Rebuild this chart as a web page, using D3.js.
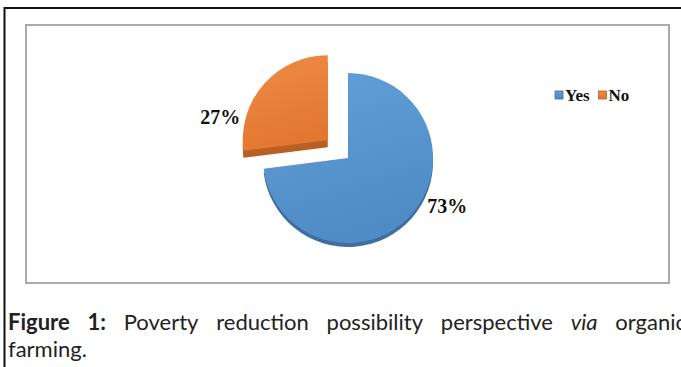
<!DOCTYPE html>
<html>
<head>
<meta charset="utf-8">
<script src="https://cdn.jsdelivr.net/npm/d3@7"></script>
<style>
  html, body { margin: 0; padding: 0; background: #fff; overflow: hidden; }
</style>
</head>
<body>
<svg id="chart" width="681" height="367"></svg>
<script>
// data
const categories = ["Yes", "No"]
const values = [73, 27]
const labels = ["73%", "27%"]

const svg = d3.select("#chart")
const W = 681, H = 367

//outer frame (page border) + inner chart box
svg.append("path").attr("d", `M4.5,${H} L4.5,8 L${W},8`).attr("fill", "none").attr("stroke", "#111").attr("stroke-width", 2)
svg.append("rect").attr("x", 26).attr("y", 25).attr("width", 643).attr("height", 258)
  .attr("fill", "#fff").attr("stroke", "#aaa").attr("stroke-width", 2)

//gradients for the faces
const defs = svg.append("defs")
const grads = [["g0", "#63a0d8", "#4f8bc4"], ["g1", "#ef8c48", "#e27730"]]
grads.forEach(g => {
  let lg = defs.append("linearGradient").attr("id", g[0]).attr("x1", 0).attr("y1", 0).attr("x2", 0.3).attr("y2", 1)
  lg.append("stop").attr("offset", "0%").attr("stop-color", g[1])
  lg.append("stop").attr("offset", "100%").attr("stop-color", g[2])
})

const color = d3.scaleOrdinal().domain(categories).range(["url(#g0)", "url(#g1)"])
const depthColor = d3.scaleOrdinal().domain(categories).range(["#3f6f9f", "#b85f24"])
const depth = d3.scaleOrdinal().domain(categories).range([4, 7])
const explode = d3.scaleOrdinal().domain(categories).range([0, 27])
//where along the slice the label sits (Excel best fit)
const labelFrac = d3.scaleOrdinal().domain(categories).range([0.44, 0.2])

const cx = 348, cy = 158, R = 85

const pie = d3.pie().sort(null).value(d => d.v)
const arcs = pie(categories.map((c, i) => ({c, v: values[i], label: labels[i]})))
const arc = d3.arc().innerRadius(0).outerRadius(R)

const g = svg.append("g").attr("transform", `translate(${cx},${cy})`)

const slice = g.selectAll("g.slice").data(arcs).enter().append("g").attr("class", "slice")
  .attr("transform", d => {
    let a = (d.startAngle + d.endAngle) / 2, e = explode(d.data.c)
    return `translate(${Math.sin(a) * e},${-Math.cos(a) * e})`
  })

//side (depth) first, then the top face
slice.append("path").attr("d", arc).attr("transform", d => `translate(0,${depth(d.data.c)})`)
  .attr("fill", d => depthColor(d.data.c))
slice.append("path").attr("d", arc).attr("fill", d => color(d.data.c))

slice.append("text")
  .attr("transform", d => {
    let a = d.startAngle + labelFrac(d.data.c) * (d.endAngle - d.startAngle), r = R + 25
    return `translate(${Math.sin(a) * r},${-Math.cos(a) * r})`
  })
  .attr("text-anchor", "middle").attr("dominant-baseline", "central")
  .attr("font-family", "Liberation Serif").attr("font-weight", "bold").attr("font-size", 20)
  .attr("fill", "#111")
  .text(d => d.data.label)

//legend
const legend = svg.append("g").attr("transform", "translate(555,91)")
let lx = 0
categories.forEach((c, i) => {
  let item = legend.append("g").attr("transform", `translate(${lx},0)`)
  item.append("rect").attr("x", 0).attr("y", 0).attr("width", 8).attr("height", 8)
    .attr("fill", color(c)).attr("stroke", depthColor(c)).attr("stroke-width", 0.8)
  let t = item.append("text").attr("x", 10).attr("y", 10)
    .attr("font-family", "Liberation Serif").attr("font-weight", "bold").attr("font-size", 17)
    .attr("fill", "#111").text(c)
  lx += 10 + t.node().getComputedTextLength() + 9
})

//caption, first line justified across the page
const capFont = "Lato"
const line1 = [
  {t: "Figure", w: "bold"}, {t: "1:", w: "bold"}, {t: "Poverty"}, {t: "reduction"},
  {t: "possibility"}, {t: "perspective"}, {t: "via", s: "italic"}, {t: "organic"}
]
const cap = svg.append("g")
const words = cap.selectAll("text.w").data(line1).enter().append("text").attr("class", "w")
  .attr("y", 330).attr("font-family", capFont).attr("font-size", 22).attr("fill", "#222")
  .attr("font-weight", d => d.w || "normal").attr("font-style", d => d.s || "normal")
  .text(d => d.t)
let widths = words.nodes().map(n => n.getComputedTextLength())
let x0 = 8, x1 = 686
let gap = (x1 - x0 - d3.sum(widths)) / (line1.length - 1)
let xs = []
widths.reduce((x, w) => { xs.push(x); return x + w + gap }, x0)
words.attr("x", (d, i) => xs[i])
cap.append("text").attr("x", 8).attr("y", 357).attr("font-family", capFont).attr("font-size", 22)
  .attr("fill", "#222").text("farming.")
</script>
</body>
</html>
